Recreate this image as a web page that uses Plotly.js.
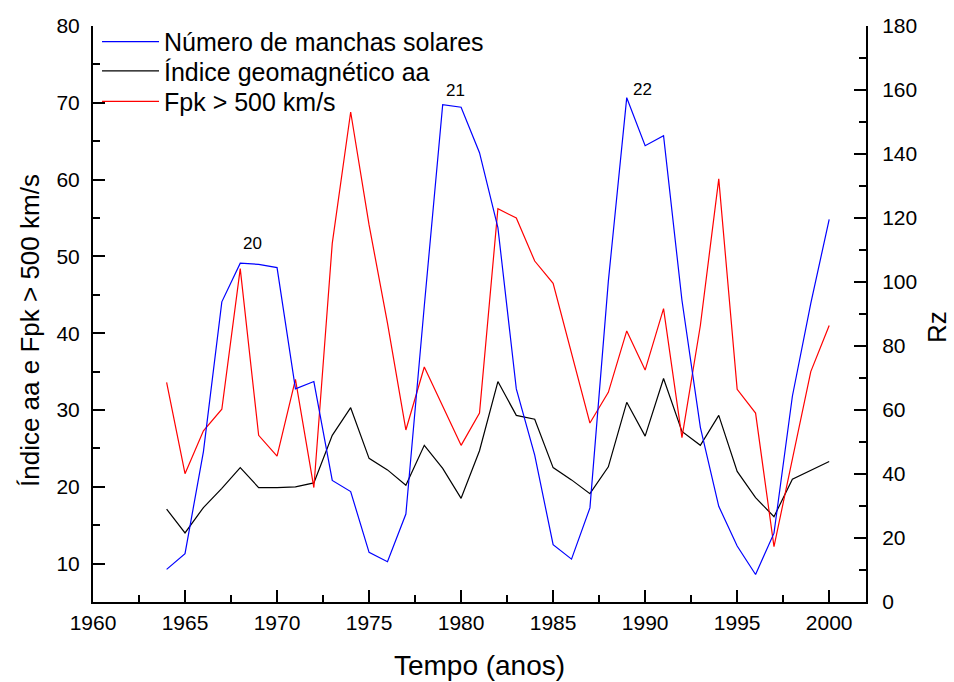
<!DOCTYPE html>
<html>
<head>
<meta charset="utf-8">
<script src="https://cdn.plot.ly/plotly-3.0.1.min.js"></script>
<style>
  html, body { margin: 0; padding: 0; background: #ffffff; }
  #chart { width: 954px; height: 682px; }
</style>
</head>
<body>
<div id="chart"></div>
<script>
// Annual values, 1964-2000
const years = [
  1964, 1965, 1966, 1967, 1968, 1969, 1970, 1971, 1972, 1973,
  1974, 1975, 1976, 1977, 1978, 1979, 1980, 1981, 1982, 1983,
  1984, 1985, 1986, 1987, 1988, 1989, 1990, 1991, 1992, 1993,
  1994, 1995, 1996, 1997, 1998, 1999, 2000
];

// Sunspot number Rz (right axis)
const sunspots = [
  10.2, 15.1, 47.0, 93.8, 105.9, 105.5, 104.5, 66.6, 68.9, 38.0,
  34.5, 15.5, 12.6, 27.5, 92.5, 155.4, 154.6, 140.4, 117.0, 66.6,
  45.9, 17.9, 13.4, 29.4, 100.2, 157.6, 142.6, 145.7, 94.3, 54.6,
  29.9, 17.5, 8.6, 21.5, 64.3, 93.3, 119.6
];

// Geomagnetic aa index (left axis)
const aaIndex = [
  17.1, 14.0, 17.3, 19.8, 22.5, 19.9, 19.9, 20.0, 20.5, 26.7,
  30.3, 23.7, 22.2, 20.2, 25.4, 22.4, 18.5, 24.7, 33.7, 29.3,
  28.8, 22.5, 20.9, 19.1, 22.6, 31.0, 26.6, 34.1, 27.2, 25.4,
  29.3, 22.0, 18.6, 16.1, 21.0, 22.2, 23.3
];

// Fpk > 500 km/s (left axis)
const fpk = [
  33.6, 21.7, 27.3, 30.1, 48.4, 26.7, 24.0, 34.0, 19.9, 51.7,
  68.8, 54.1, 41.3, 27.4, 35.6, 30.5, 25.4, 29.6, 56.2, 55.0,
  49.4, 46.5, 37.4, 28.3, 32.3, 40.3, 35.2, 43.2, 26.4, 41.0,
  60.1, 32.7, 29.6, 12.2, 23.6, 35.0, 41.0
];

// Solar cycle labels
const cycleLabels = ["20", "21", "22"];
const cycleX = [1968.65, 1979.67, 1989.86];
const cycleY = [111.9, 159.8, 160.3];

const seriesNames = [
  "Número de manchas solares",
  "Índice geomagnético aa",
  "Fpk > 500 km/s"
];

const titleLeft = "Índice aa e Fpk > 500 km/s";
const titleRight = "Rz";
const titleBottom = "Tempo (anos)";

const FONT = "Liberation Sans, Arial, sans-serif";

// one legend box per series so the rows sit tightly stacked
const legendIds = ["legend", "legend2", "legend3"];
const legendTop = [1.0125, 0.9615, 0.9085];

const traces = [
  {
    x: years, y: sunspots, name: seriesNames[0], yaxis: "y2", legend: legendIds[0],
    type: "scatter", mode: "lines",
    line: { color: "#0000ff", width: 1.2 }
  },
  {
    x: years, y: aaIndex, name: seriesNames[1], yaxis: "y", legend: legendIds[1],
    type: "scatter", mode: "lines",
    line: { color: "#000000", width: 1.2 }
  },
  {
    x: years, y: fpk, name: seriesNames[2], yaxis: "y", legend: legendIds[2],
    type: "scatter", mode: "lines",
    line: { color: "#ff0000", width: 1.2 }
  }
];

const axisCommon = {
  showgrid: false,
  zeroline: false,
  showline: true,
  linecolor: "#000000",
  linewidth: 2,
  ticks: "inside",
  tickwidth: 2,
  ticklen: 12,
  tickcolor: "#000000",
  tickfont: { family: FONT, size: 21, color: "#000000" }
};

function legendBox(top) {
  return {
    x: 0.0052, y: top, xanchor: "left", yanchor: "top",
    bgcolor: "rgba(0,0,0,0)",
    borderwidth: 0,
    itemwidth: 57,
    tracegroupgap: 0,
    font: { family: FONT, size: 25, color: "#000000" }
  };
}

const layout = {
  width: 954,
  height: 682,
  margin: { l: 93, r: 88, t: 26, b: 80 },
  paper_bgcolor: "#ffffff",
  plot_bgcolor: "#ffffff",
  font: { family: FONT, color: "#000000" },
  showlegend: true,
  legend: legendBox(legendTop[0]),
  legend2: legendBox(legendTop[1]),
  legend3: legendBox(legendTop[2]),
  xaxis: Object.assign({}, axisCommon, {
    range: [1960, 2002],
    tick0: 1960, dtick: 5,
    ticklabelstandoff: 1,
    minor: { dtick: 2.5, ticks: "inside", ticklen: 7, tickwidth: 2, tickcolor: "#000000" },
    title: { text: titleBottom, font: { family: FONT, size: 28 }, standoff: 22 }
  }),
  xaxis2: {
    overlaying: "x", side: "top", anchor: "y",
    range: [1960, 2002], tick0: 1960, dtick: 2.5,
    showgrid: false, zeroline: false, showline: true,
    linecolor: "#000000", linewidth: 2,
    ticks: "inside", ticklen: 5, tickwidth: 2, tickcolor: "#000000",
    showticklabels: false
  },
  yaxis: Object.assign({}, axisCommon, {
    range: [5, 80],
    tick0: 0, dtick: 10,
    ticklabelstandoff: 7,
    minor: { dtick: 5, ticks: "inside", ticklen: 7, tickwidth: 2, tickcolor: "#000000" }
  }),
  yaxis2: Object.assign({}, axisCommon, {
    overlaying: "y", side: "right", anchor: "x",
    range: [0, 180],
    tick0: 0, dtick: 20,
    ticklabelstandoff: 10,
    minor: { dtick: 10, ticks: "inside", ticklen: 7, tickwidth: 2, tickcolor: "#000000" }
  }),
  annotations: cycleLabels.map((t, i) => ({
    text: t, x: cycleX[i], y: cycleY[i], xref: "x", yref: "y2",
    showarrow: false, font: { family: FONT, size: 17, color: "#000000" }
  })).concat([
    {
      text: titleLeft, xref: "paper", yref: "paper",
      x: -0.0815, y: 0.4705, xanchor: "center", yanchor: "middle",
      textangle: -90, showarrow: false,
      font: { family: FONT, size: 26, color: "#000000" }
    },
    {
      text: titleRight, xref: "paper", yref: "paper",
      x: 1.1125, y: 0.4774, xanchor: "right", yanchor: "middle",
      textangle: -90, showarrow: false, borderpad: 0,
      font: { family: FONT, size: 26, color: "#000000" }
    }
  ])
};

Plotly.newPlot("chart", traces, layout, { displayModeBar: false, staticPlot: true });
</script>
</body>
</html>
